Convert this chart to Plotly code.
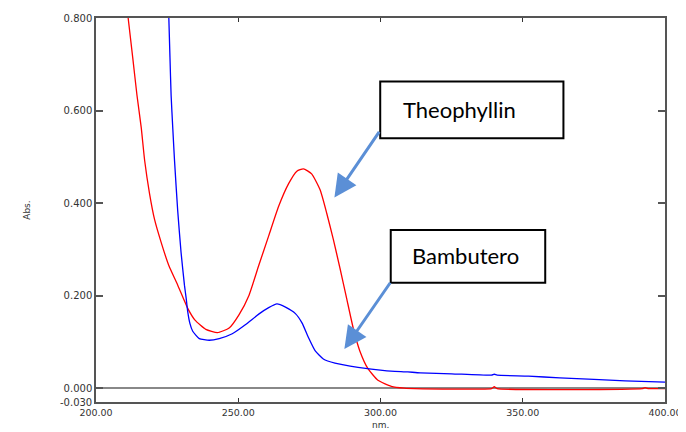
import plotly.graph_objects as go

# Theophyllin (red) spectrum
theo_nm = [211.3, 212.9, 214.4, 215.9, 217.1, 218.8, 220.6, 222.9, 225.6, 228.7, 232.2,
           234.8, 238.6, 242.7,
           246.8, 250.3, 253.8, 257.2, 260.7, 264.2, 267.7, 270.6, 272.9, 275.8, 278.8,
           281.1, 283.4, 285.8, 288.1, 290.4, 292.7, 295.6, 299.1, 303.8, 308.4, 312.0,
           339.0, 340.0, 341.0, 392.0, 393.0, 394.0, 400.0]
theo_abs = [0.800, 0.715, 0.633, 0.563, 0.492, 0.421, 0.364, 0.315, 0.265, 0.223, 0.173,
            0.147, 0.127, 0.120,
            0.130, 0.159, 0.201, 0.265, 0.329, 0.393, 0.442, 0.469, 0.474, 0.463, 0.428,
            0.378, 0.322, 0.258, 0.194, 0.130, 0.081, 0.042, 0.017, 0.004, 0.000, -0.001,
            -0.001, 0.003, -0.001, -0.001, 0.001, -0.001, -0.001]

# Bambuterol (blue) spectrum
bamb_nm = [225.6, 226.0, 226.4, 227.0, 227.6, 228.7, 229.9, 231.1, 231.7, 232.2, 233.0,
           234.0, 236.3,
           239.8, 243.3, 247.9, 252.6, 257.2, 260.7, 263.6, 266.6, 270.1, 272.4, 274.7,
           277.0, 279.9, 284.0, 292.1, 301.5, 309.6, 314.0, 325.0, 339.0, 340.0, 341.0,
           352.0, 363.0, 375.0, 386.0, 400.0]
bamb_abs = [0.800, 0.715, 0.633, 0.560, 0.492, 0.385, 0.293, 0.222, 0.194, 0.167, 0.140,
            0.123, 0.107,
            0.1035, 0.107, 0.1175, 0.1375, 0.160, 0.174, 0.182, 0.175, 0.161, 0.141, 0.109,
            0.081, 0.063, 0.054, 0.045, 0.038, 0.035, 0.033, 0.031, 0.028, 0.030, 0.028,
            0.026, 0.022, 0.019, 0.0155, 0.013]

x_ticks = [200, 250, 300, 350, 400]
x_labels = ["200.00", "250.00", "300.00", "350.00", "400.00"]
y_ticks = [-0.03, 0.0, 0.2, 0.4, 0.6, 0.8]
y_labels = ["-0.030", "0.000", "0.200", "0.400", "0.600", "0.800"]

labels = ["Theophyllin", "Bambutero"]

fig = go.Figure()
fig.add_trace(go.Scatter(x=theo_nm, y=theo_abs, mode="lines",
                         line=dict(color="#FF0000", width=1.3, shape="spline", smoothing=0.5),
                         name=labels[0]))
fig.add_trace(go.Scatter(x=bamb_nm, y=bamb_abs, mode="lines",
                         line=dict(color="#0000FF", width=1.3, shape="spline", smoothing=0.5),
                         name=labels[1]))

tickfont = dict(family="DejaVu Sans", size=10, color="#333333")
fig.update_layout(
    width=678, height=424,
    margin=dict(l=88, r=17, t=4, b=30),
    paper_bgcolor="white", plot_bgcolor="white",
    showlegend=False,
    xaxis=dict(range=[200, 400], tickvals=x_ticks, ticktext=x_labels,
               ticks="inside", ticklen=4, tickcolor="#333333", tickwidth=1,
               showline=True, linecolor="#555555", linewidth=1.5, mirror="ticks",
               showgrid=False, zeroline=False,
               tickfont=dict(family="DejaVu Sans", size=9.5, color="#333333"),
               ticklabeloverflow="allow", ticklabelstandoff=1),
    yaxis=dict(range=[-0.03, 0.8], tickvals=y_ticks, ticktext=y_labels,
               ticks="inside", ticklen=7, tickcolor="#555555", tickwidth=1.5,
               showline=True, linecolor="#555555", linewidth=1.5, mirror="ticks",
               showgrid=False, zeroline=True, zerolinecolor="#888888", zerolinewidth=2,
               tickfont=tickfont),
)

# axis titles
fig.add_annotation(text="nm.", xref="paper", yref="paper", x=0.5, y=-0.061,
                   yanchor="middle", showarrow=False,
                   font=dict(family="DejaVu Sans", size=9, color="#333333"))
fig.add_annotation(text="Abs.", xref="paper", yref="paper", x=-0.134, y=0.5, textangle=-90,
                   showarrow=False, font=dict(family="DejaVu Sans", size=9, color="#333333"))

# label boxes
fig.add_shape(type="rect", x0=299.9, x1=364.3, y0=0.540, y1=0.663,
              line=dict(color="black", width=2), fillcolor="white")
fig.add_shape(type="rect", x0=303.6, x1=357.9, y0=0.228, y1=0.3416,
              line=dict(color="black", width=2), fillcolor="white")
fig.add_annotation(text=labels[0], x=327.7, y=0.6016, showarrow=False,
                   font=dict(family="Lato", size=22, color="black"))
fig.add_annotation(text=labels[1], x=329.8, y=0.2863, showarrow=False,
                   font=dict(family="Lato", size=22, color="black"))

# arrows
arrow_col = "#5B8FD6"
fig.add_annotation(text="", x=283.8, y=0.412, ax=299.9, ay=0.557, axref="x", ayref="y",
                   showarrow=True, arrowhead=2, arrowsize=1.5, arrowwidth=3,
                   arrowcolor=arrow_col, standoff=0, startstandoff=0)
fig.add_annotation(text="", x=287.3, y=0.0844, ax=303.8, ay=0.231, axref="x", ayref="y",
                   showarrow=True, arrowhead=2, arrowsize=1.5, arrowwidth=3,
                   arrowcolor=arrow_col, standoff=0, startstandoff=0)

fig.write_html("out.html")
